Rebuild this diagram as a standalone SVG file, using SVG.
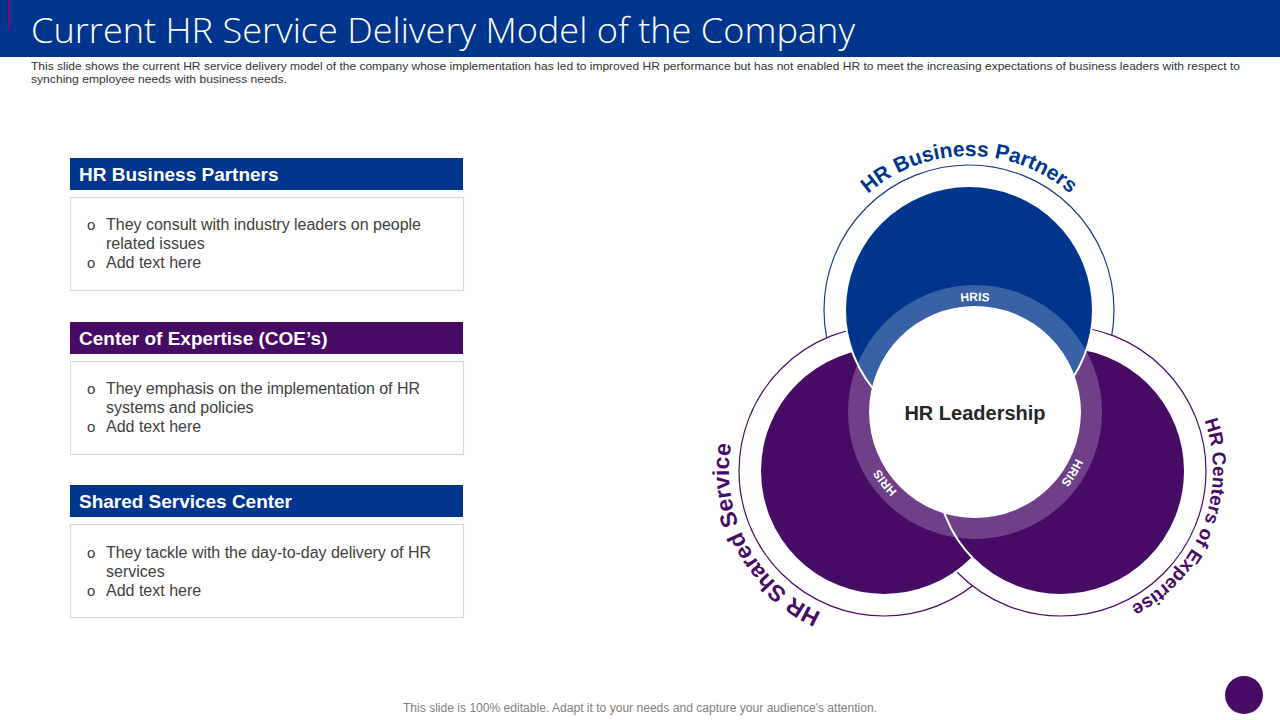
<svg xmlns="http://www.w3.org/2000/svg" width="1280" height="720" viewBox="0 0 1280 720">
<style>
.sans{font-family:"Liberation Sans",Arial,sans-serif}
.bar-t{font-family:"Liberation Sans",Arial,sans-serif;font-weight:bold;font-size:19px;fill:#fff}
.body{font-family:"Liberation Sans",Arial,sans-serif;font-size:16px;fill:#404040}
.bul{font-family:"Liberation Sans",Arial,sans-serif;font-size:15px;fill:#404040}
.box{fill:#fff;stroke:#d9d9d9;stroke-width:1.2}
.arc-t{font-family:"Liberation Sans",Arial,sans-serif;font-weight:bold}
.hris{font-family:"Liberation Sans",Arial,sans-serif;font-weight:bold;font-size:12px;fill:#fff}
.blue{fill:#00358e}
.purple{fill:#470b66}
</style>
<defs>
<path id="pTop" d="M 815,310 A 154 154 0 0 1 1123,310"/>
<path id="pLeft" d="M 884,626 A 155 155 0 0 1 884,316"/>
<path id="pRight" d="M 1061,319 A 152 152 0 0 1 1061,623"/>
<path id="pHris" d="M 864,412 A 111 111 0 0 1 1086,412 A 111 111 0 0 1 864,412"/>
</defs>
<rect width="1280" height="720" fill="#fff"/>
<g id="header">
<rect x="0" y="0" width="1280" height="57" class="blue"/>
<rect x="8" y="0" width="2" height="30" fill="#5a1a70"/>
<text x="31" y="43" font-family="'Open Sans','Liberation Sans',sans-serif" font-weight="300" font-size="34" fill="#fff" textLength="824" lengthAdjust="spacingAndGlyphs">Current HR Service Delivery Model of the Company</text>
<text x="31" y="70" class="sans" font-size="11" fill="#333" textLength="1209" lengthAdjust="spacingAndGlyphs">This slide shows the current HR service delivery model of the company whose implementation has led to improved HR performance but has not enabled HR to meet the increasing expectations of business leaders with respect to</text>
<text x="31" y="83" class="sans" font-size="11" fill="#333" textLength="256" lengthAdjust="spacingAndGlyphs">synching employee needs with business needs.</text>
</g>
<g id="panel-hrbp">
<rect x="70" y="158" width="393" height="32" class="blue"/>
<text x="79" y="181" class="bar-t">HR Business Partners</text>
<rect x="70.5" y="197.5" width="393" height="93" class="box"/>
<text x="87" y="230" class="bul">o</text>
<text x="106" y="230" class="body" textLength="315" lengthAdjust="spacing">They consult with industry leaders on people</text>
<text x="106" y="249" class="body">related issues</text>
<text x="87" y="268" class="bul">o</text>
<text x="106" y="268" class="body">Add text here</text>
</g>
<g id="panel-coe">
<rect x="70" y="322" width="393" height="32" class="purple"/>
<text x="79" y="345" class="bar-t">Center of Expertise (COE’s)</text>
<rect x="70.5" y="361.5" width="393" height="93" class="box"/>
<text x="87" y="394" class="bul">o</text>
<text x="106" y="394" class="body" textLength="314" lengthAdjust="spacing">They emphasis on the implementation of HR</text>
<text x="106" y="413" class="body">systems and policies</text>
<text x="87" y="432" class="bul">o</text>
<text x="106" y="432" class="body">Add text here</text>
</g>
<g id="panel-ssc">
<rect x="70" y="485" width="393" height="32" class="blue"/>
<text x="79" y="508" class="bar-t" textLength="213" lengthAdjust="spacing">Shared Services Center</text>
<rect x="70.5" y="524.5" width="393" height="93" class="box"/>
<text x="87" y="558" class="bul">o</text>
<text x="106" y="558" class="body" textLength="325" lengthAdjust="spacing">They tackle with the day-to-day delivery of HR</text>
<text x="106" y="577" class="body">services</text>
<text x="87" y="596" class="bul">o</text>
<text x="106" y="596" class="body">Add text here</text>
</g>
<g id="outline-rings">
<circle cx="969" cy="310" r="145" fill="#fff" stroke="#1a3a8c" stroke-width="1.2"/>
<circle cx="884" cy="471" r="145" fill="#fff" stroke="#470b66" stroke-width="1.2"/>
<circle cx="1061" cy="471" r="145" fill="#fff" stroke="#470b66" stroke-width="1.2"/>
</g>
<g id="node-shared">
<circle cx="884" cy="471" r="124" class="purple" stroke="#fff" stroke-width="2"/>
<text class="arc-t" style="font-size:23px" fill="#470b66"><textPath href="#pLeft" startOffset="34.4%" text-anchor="middle">HR Shared Service</textPath></text>
</g>
<g id="node-coe">
<circle cx="1061" cy="471" r="124" class="purple" stroke="#fff" stroke-width="2"/>
<text class="arc-t" style="font-size:19px" fill="#470b66"><textPath href="#pRight" startOffset="62%" text-anchor="middle">HR Centers of Expertise</textPath></text>
</g>
<g id="node-hrbp">
<circle cx="969" cy="310" r="124" class="blue" stroke="#fff" stroke-width="2"/>
<text class="arc-t" style="font-size:21px" fill="#00358e"><textPath href="#pTop" startOffset="50%" text-anchor="middle">HR Business Partners</textPath></text>
</g>
<g id="node-hris">
<circle cx="975" cy="412" r="116.5" fill="none" stroke="#fff" stroke-opacity="0.22" stroke-width="21"/>
<text class="hris"><textPath href="#pHris" startOffset="25%" text-anchor="middle">HRIS</textPath></text>
<text class="hris"><textPath href="#pHris" startOffset="58.9%" text-anchor="middle">HRIS</textPath></text>
<text class="hris"><textPath href="#pHris" startOffset="89.4%" text-anchor="middle">HRIS</textPath></text>
</g>
<g id="node-leadership">
<circle cx="975" cy="412" r="106" fill="#fff"/>
<text x="975" y="420" class="sans" font-weight="bold" font-size="20" fill="#262626" text-anchor="middle">HR Leadership</text>
</g>
<g id="connectors"></g>
<g id="footer">
<text x="640" y="712" class="sans" font-size="12" fill="#7f7f7f" text-anchor="middle" textLength="474" lengthAdjust="spacingAndGlyphs">This slide is 100% editable. Adapt it to your needs and capture your audience's attention.</text>
<circle cx="1244" cy="695" r="19" class="purple"/>
</g>
</svg>
